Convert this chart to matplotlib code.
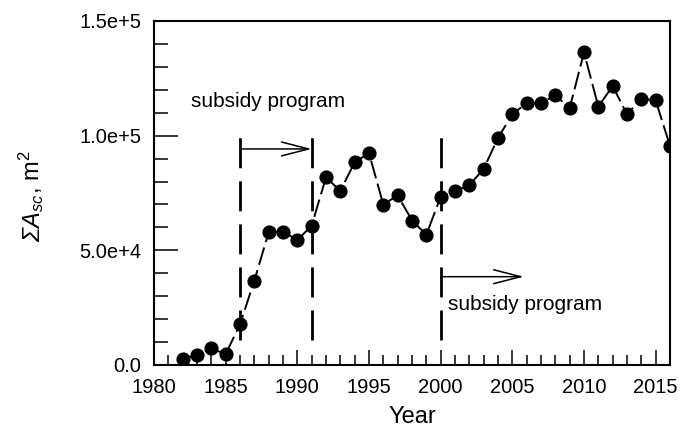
import matplotlib
matplotlib.use('Agg')
import matplotlib.pyplot as plt
from matplotlib.ticker import MultipleLocator

plt.rcParams['font.family'] = ['Liberation Sans', 'DejaVu Sans']
plt.rcParams['mathtext.fontset'] = 'custom'
plt.rcParams['mathtext.rm'] = 'Liberation Sans'
plt.rcParams['mathtext.it'] = 'Liberation Sans:italic'
plt.rcParams['lines.scale_dashes'] = False

years = list(range(1982, 2017))
area = [2500, 4450, 7200, 4750, 17700, 36800, 57800, 58200, 54400, 60800,
        81800, 75900, 88400, 92400, 69900, 74000, 63000, 56800, 73300, 75800,
        78400, 85500, 99000, 109300, 114200, 114200, 117600, 112000, 136300, 112700,
        121600, 109300, 116100, 115400, 95500]

program_lines = [1986, 1991, 2000]
line_range = [10900, 99600]
arrows = [(1986, 1991, 94200), (2000, 2005.8, 38500)]
labels = [(1982.6, 112600, 'subsidy program'), (2000.5, 23800, 'subsidy program')]
ytick_vals = [0, 50000, 100000, 150000]
ytick_text = ['0.0', '5.0e+4', '1.0e+5', '1.5e+5']

W, H = 682, 428
fig = plt.figure(figsize=(W / 100, H / 100), dpi=100)
ax = fig.add_axes([0.2258, 0.1472, 0.9824 - 0.2258, 0.951 - 0.1472])

ax.plot(years, area, color='k', lw=1.4, linestyle=(0, (13, 4)),
        marker='o', markersize=9.2, markerfacecolor='k', markeredgecolor='k',
        zorder=3)

for x in program_lines:
    ax.plot([x, x], line_range, color='k', lw=2, linestyle=(0, (21.6, 9.4)),
            zorder=2)

for x0, x1, y in arrows:
    ax.annotate('', xy=(x1, y), xytext=(x0, y),
                arrowprops=dict(arrowstyle='->,head_length=1.95,head_width=0.5',
                                lw=1.1, color='k', shrinkA=0, shrinkB=0))

for x, y, t in labels:
    ax.text(x, y, t, fontsize=15, ha='left', va='baseline')

ax.set_xlim(1980, 2016)
ax.set_ylim(0, 150000)
ax.xaxis.set_major_locator(MultipleLocator(5))
ax.xaxis.set_minor_locator(MultipleLocator(1))
ax.set_yticks(ytick_vals)
ax.set_yticklabels(ytick_text)
ax.yaxis.set_minor_locator(MultipleLocator(10000))

ax.tick_params(axis='both', which='both', direction='in', top=False, right=False,
               width=1.1, labelsize=14.5)
ax.tick_params(axis='x', which='major', length=11, pad=9.5)
ax.tick_params(axis='x', which='minor', length=7)
ax.tick_params(axis='y', which='major', length=17, pad=9)
ax.tick_params(axis='y', which='minor', length=10)
for s in ax.spines.values():
    s.set_linewidth(1.5)

ax.set_xlabel('Year', fontsize=17, labelpad=6)

# y label in two parts: italic "ΣA_sc" and upright ", m²"
ylab_x, ylab_y = 40 / W, 1 - 242 / H
t1 = fig.text(ylab_x, ylab_y, r'ΣA$_{sc}$', fontsize=17, style='italic',
              rotation=90, rotation_mode='anchor', ha='left', va='baseline')
fig.canvas.draw()
bb = t1.get_window_extent()
t2 = fig.text(ylab_x, bb.y1 / H - 1 / H, r', m$^{\mathrm{2}}$', fontsize=17,
              rotation=90, rotation_mode='anchor', ha='left', va='baseline')

fig.savefig('out.png', dpi=100)
